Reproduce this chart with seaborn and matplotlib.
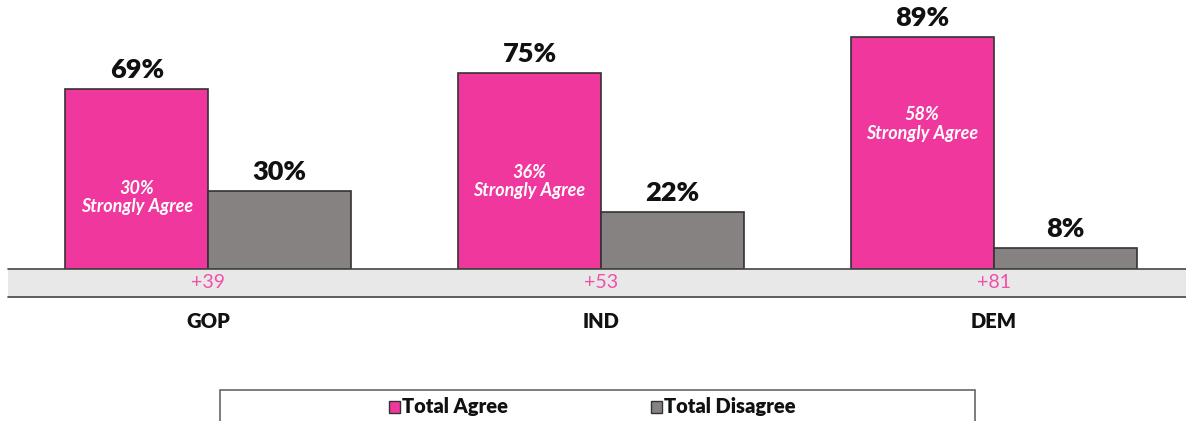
import pandas as pd
import seaborn as sns
import matplotlib.pyplot as plt
from matplotlib.patches import Rectangle

groups = ["GOP", "IND", "DEM"]
total_agree = [69, 75, 89]
total_disagree = [30, 22, 8]
strongly_agree = [30, 36, 58]
net = ["+39", "+53", "+81"]

df = pd.DataFrame({
    "group": groups * 2,
    "value": total_agree + total_disagree,
    "series": ["Total Agree"] * 3 + ["Total Disagree"] * 3,
})

pink = "#F0379E"
grey = "#878282"

sns.set_style("white")
plt.rcParams["font.family"] = ["Lato", "DejaVu Sans"]

fig = plt.figure(figsize=(11.86, 4.21), dpi=100)
W, H = 1186, 421
ax = fig.add_axes([8 / W, (H - 269) / H, 1 - 8 / W, 269 / H])

sns.barplot(data=df, x="group", y="value", hue="series", palette=[pink, grey],
            width=0.728, edgecolor="#333333", linewidth=1.2, ax=ax, legend=False,
            saturation=1)
ax.set_xlim(-0.51, 2.49)
ax.set_ylim(0, 269 / 2.61)
for s in ax.spines.values():
    s.set_visible(False)
ax.set_xticks([])
ax.set_yticks([])
ax.set_xlabel("")
ax.set_ylabel("")

# value labels
for cont in ax.containers:
    ax.bar_label(cont, fmt="%d%%", padding=5, fontsize=19.5, fontweight="heavy", color="#111111")

# strongly agree text in pink bars
for i, v in enumerate(strongly_agree):
    ax.text(i - 0.182, v - 2.5, f"{v}%\nStrongly Agree", ha="center", va="center",
            color="white", fontsize=13, fontweight="bold", fontstyle="italic", linespacing=1.1)

# grey band under bars with the net numbers
band_h = 28 / 2.61
ax.add_patch(Rectangle((-0.51, -band_h), 3.1, band_h, facecolor="#E8E8E8",
                       edgecolor="none", clip_on=False, zorder=0))
ax.plot([-0.51, 2.6], [0, 0], color="#444444", lw=1.2, clip_on=False)
ax.plot([-0.51, 2.6], [-band_h, -band_h], color="#444444", lw=1.2, clip_on=False)
for i, t in enumerate(net):
    ax.text(i, -band_h / 2, t, ha="center", va="center", color="#F050A8", fontsize=14,
            clip_on=False)
    ax.text(i, -20.3, groups[i], ha="center", va="center", color="#111111",
            fontsize=14.5, fontweight="heavy")

# legend box
fig.patches.append(Rectangle((220 / W, -0.05), (975 - 220) / W, (H - 390) / H + 0.05,
                             transform=fig.transFigure, facecolor="white",
                             edgecolor="#666666", lw=1.2))
legend_items = [("Total Agree", pink, 389), ("Total Disagree", grey, 651)]
for label, color, x in legend_items:
    fig.patches.append(Rectangle((x / W, (H - 413) / H), 11 / W, 12 / H,
                                 transform=fig.transFigure, facecolor=color,
                                 edgecolor="#333333", lw=1))
    fig.text((x + 13) / W, (H - 407) / H, label, ha="left", va="center",
             fontsize=14.5, fontweight="heavy", color="#111111")

fig.savefig("out.png", dpi=100)
